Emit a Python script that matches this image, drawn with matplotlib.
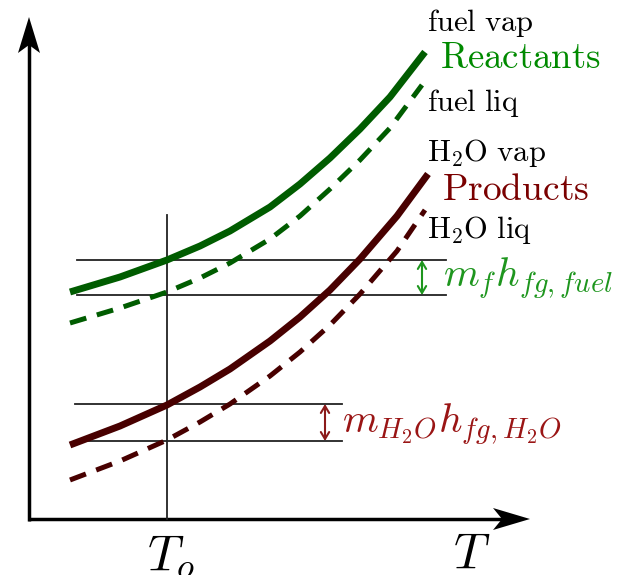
import numpy as np
import matplotlib.pyplot as plt

plt.rcParams['mathtext.fontset'] = 'cm'

# schematic enthalpy-temperature curves (arbitrary units, origin at axis corner)
T_react = [40, 90, 137, 170, 200, 240, 270, 300, 330, 360, 395]
h_fuel_vap = [227, 242, 259, 273, 288, 312, 335, 361, 390, 422, 467]
T_react_liq = [40, 90, 137, 170, 200, 240, 270, 300, 330, 360, 392]
h_fuel_liq = [196, 211, 227, 241, 256, 280, 303, 330, 359, 391, 434]

T_prod = [40, 90, 137, 170, 200, 240, 270, 300, 330, 367, 398]
h_h2o_vap = [74, 93, 114, 132, 150, 178, 202, 229, 260, 303, 345]
T_prod_liq = [40, 90, 137, 170, 200, 240, 270, 300, 330, 367, 395]
h_h2o_liq = [39, 58, 79, 97, 115, 143, 167, 194, 225, 268, 309]

T_o = 137
fuel_levels = [259, 224]
fuel_span = [47, 416]
h2o_levels = [115, 78]
h2o_span = [45, 312]

green_dark = '#005c00'
maroon = '#480000'

fig = plt.figure(figsize=(6.2, 5.75), dpi=100)
ax = fig.add_axes([0, 0, 1, 1])
ax.set_xlim(-30, 590)
ax.set_ylim(-56, 519)
ax.axis('off')

# axes with stealth style arrow heads
ax.plot([-2, 474], [0, 0], color='k', lw=2.5, solid_capstyle='butt')
ax.plot([-1, -1], [-2, 476], color='k', lw=2.5, solid_capstyle='butt')
ax.fill([500, 463, 472, 463], [0, 11, 0, -11], color='k', lw=0)
ax.fill([-1, -12, -1, 10], [502, 466, 474, 466], color='k', lw=0)

# reference lines
ax.plot([T_o, T_o], [0, 304], color='#222222', lw=1.3)
for lv in fuel_levels:
    ax.plot(fuel_span, [lv, lv], color='#222222', lw=1.3)
for lv in h2o_levels:
    ax.plot(h2o_span, [lv, lv], color='#222222', lw=1.3)

# curves
ax.plot(T_react, h_fuel_vap, color=green_dark, lw=5, solid_capstyle='butt')
ax.plot(T_react_liq, h_fuel_liq, color=green_dark, lw=3.6,
        dashes=(3.4, 2.2), dash_capstyle='butt')
ax.plot(T_prod, h_h2o_vap, color=maroon, lw=5, solid_capstyle='butt')
ax.plot(T_prod_liq, h_h2o_liq, color=maroon, lw=3.6,
        dashes=(3.4, 2.2), dash_capstyle='butt')

# latent heat arrows
ax.annotate('', xy=(392, fuel_levels[0]), xytext=(392, fuel_levels[1]),
            arrowprops=dict(arrowstyle='<->,head_length=0.5,head_width=0.3',
                            lw=1.5, color='#1e961e', shrinkA=0, shrinkB=0))
ax.annotate('', xy=(295, h2o_levels[0]), xytext=(295, h2o_levels[1]),
            arrowprops=dict(arrowstyle='<->,head_length=0.5,head_width=0.3',
                            lw=1.5, color='#8b1a1a', shrinkA=0, shrinkB=0))

# labels
ax.text(397, 496, r'$\mathrm{fuel\ vap}$', fontsize=22, va='center', ha='left')
ax.text(410, 461, r'$\mathrm{Reactants}$', fontsize=26.5, va='center', ha='left',
        color='#008a00')
ax.text(397, 416, r'$\mathrm{fuel\ liq}$', fontsize=22, va='center', ha='left')
ax.text(397, 366, r'$\mathrm{H_2O\ vap}$', fontsize=22, va='center', ha='left')
ax.text(412, 329, r'$\mathrm{Products}$', fontsize=27, va='center', ha='left',
        color='#7a0000')
ax.text(397, 289, r'$\mathrm{H_2O\ liq}$', fontsize=22, va='center', ha='left')
ax.text(413, 232, r'$m_f h_{fg,fuel}$', fontsize=29.5, va='baseline', ha='left',
        color='#1e961e')
ax.text(312, 86, r'$m_{H_2O} h_{fg,H_2O}$', fontsize=29.5, va='baseline',
        ha='left', color='#9a1515')
ax.text(117, -50, r'$T_o$', fontsize=36, va='baseline', ha='left')
ax.text(423, -49, r'$T$', fontsize=36, va='baseline', ha='left')

fig.savefig('out.png', dpi=100)
